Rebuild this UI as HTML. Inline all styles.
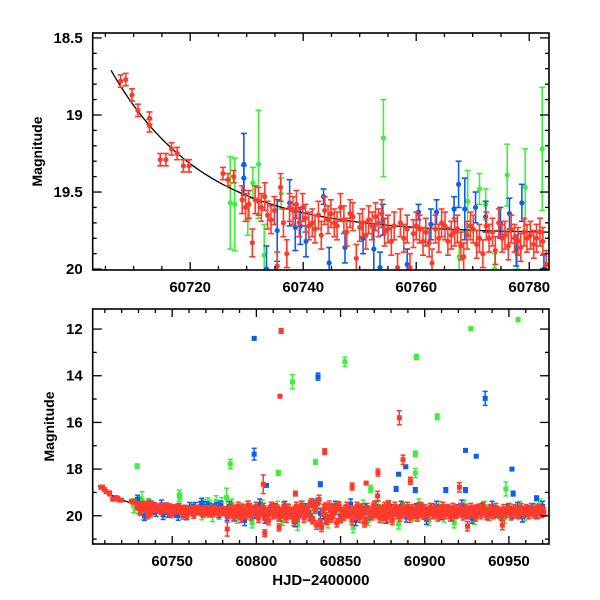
<!DOCTYPE html>
<html><head><meta charset="utf-8"><style>
html,body{margin:0;padding:0;background:#fff;}
svg{display:block;font-family:"Liberation Sans",sans-serif;}
</style></head><body>
<svg id="chart" width="600" height="600" viewBox="0 0 600 600"></svg>
<script>
// ---------- data ----------
// fit model parameters
const modelPlateau = 19.77, modelAmp = 1.06, modelT0 = 60706, modelTau = 16.5;
// red early points
const redEarlyT = [60707.7,60708.6,60709.7,60710.75,60712.8,60712.8,60714.7,60715.7,60716.7,60717.7,60718.8,60719.8,60725.8,60726.7,60727.7];
const redEarlyM = [18.78,18.77,18.87,18.97,19.02,19.07,19.29,19.29,19.22,19.25,19.33,19.33,19.38,19.42,19.40];
// red dense (top panel region)
const redT = [60729.2,60729.8,60730.4,60731,60731.5,60732.1,60732.6,60733.2,60733.7,60734.3,60734.9,60735.4,60736,60736.5,60737.1,60737.6,60738.2,60738.8,60739.3,60739.9,60740.4,60741,60741.6,60742.1,60742.7,60743.2,60743.8,60744.4,60744.9,60745.5,60746,60746.6,60747.2,60747.7,60748.3,60748.8,60749.4,60750,60750.5,60751.1,60751.6,60752.2,60752.8,60753.3,60753.9,60754.4,60755,60755.6,60756.1,60756.7,60757.2,60757.8,60758.4,60758.9,60759.5,60760,60760.6,60761.2,60761.7,60762.3,60762.8,60763.4,60764,60764.5,60765.1,60765.6,60766.2,60766.8,60767.3,60767.9,60768.4,60769,60769.6,60770.1,60770.7,60771.2,60771.8,60772.4,60772.9,60773.5,60774,60774.6,60775.2,60775.7,60776.3,60776.8,60777.4,60778,60778.5,60779.1,60779.6,60780.2,60780.8,60781.3,60781.9,60782.4,60783];
const redM = [19.55,19.6,19.58,19.83,19.55,19.56,19.6,19.53,19.65,19.68,19.62,19.98,19.47,19.7,19.9,19.6,19.62,19.58,19.7,19.6,19.67,19.72,19.7,19.74,19.65,19.78,19.62,19.68,19.64,19.7,19.72,19.6,19.68,19.76,19.64,19.66,19.93,19.73,19.7,19.78,19.68,19.72,19.66,19.7,19.64,19.76,19.74,19.82,19.72,19.99,19.7,19.8,19.74,19.99,19.77,19.72,19.74,19.82,19.76,19.83,19.96,19.74,19.8,19.7,19.72,19.82,19.78,19.76,19.74,19.85,19.92,19.78,19.72,19.74,19.84,19.8,19.9,19.72,19.8,19.76,19.88,19.7,19.8,19.78,19.85,19.74,19.8,19.82,19.86,19.76,19.8,19.78,19.84,19.8,19.76,19.82,19.97];
const redErr = 0.09;
// blue (top panel region)
const blueT = [60729.5,60729.5,60733.5,60735.4,60737.6,60738.6,60739.5,60740.5,60743.6,60744.6,60747.4,60750.6,60752.5,60753.6,60754.1,60758.4,60760.4,60762.6,60763.6,60766.7,60767.5,60768.6,60770.5,60772.3,60774.9,60776.5,60777.7,60778.7,60782.6];
const blueM = [19.32,19.41,20.0,19.75,19.57,19.73,19.72,19.82,19.53,19.96,19.86,19.8,19.87,19.99,19.68,19.97,19.63,19.71,19.63,19.61,19.45,19.61,19.6,19.66,19.7,19.64,19.88,19.57,20.0];
const blueE = [0.2,0.08,0.15,0.2,0.15,0.15,0.12,0.1,0.05,0.1,0.1,0.1,0.15,0.1,0.1,0.1,0.05,0.1,0.08,0.08,0.15,0.2,0.1,0.1,0.1,0.1,0.1,0.12,0.1];
// green (top panel region)
const greenT = [60727.1,60727.9,60730.2,60731.1,60732.1,60733.1,60736.1,60754.2,60767.6,60769.1,60771.2,60772.3,60773.9,60776.1,60777.9,60779.3,60782.3];
const greenM = [19.57,19.58,19.68,19.44,19.32,19.91,19.51,19.15,19.92,19.56,19.48,19.58,20.0,19.39,19.9,19.47,19.22];
const greenE = [0.3,0.3,0.1,0.1,0.35,0.2,0.1,0.25,0.1,0.2,0.1,0.1,0.1,0.2,0.1,0.25,0.4];
// bottom-panel extra: outliers
const blueOutT = [60798.7,60836.6,60935.9,60798.7,60924.2,60930.6,60951.8,60838,60884.5,60888.7,60883,60806,60924.2,60952.5,60966.4,60894.4,60912.5];
const blueOutM = [12.4,14.04,14.97,17.36,17.2,17.45,18.0,18.65,18.22,17.9,18.85,18.7,18.9,19.05,19.25,18.9,18.9];
const blueOutE = [0.05,0.15,0.3,0.25,0.05,0.05,0.05,0.1,0.05,0.05,0.1,0.05,0.1,0.1,0.1,0.1,0.1];
const greenOutT = [60729.2,60784.5,60813.1,60821.4,60835.1,60852.6,60895.1,60894.4,60894.4,60907.4,60927.4,60955.4,60754.5,60867.9,60948.2];
const greenOutM = [17.88,17.78,18.17,14.26,17.69,13.4,13.2,17.35,18.17,15.76,11.98,11.6,19.17,18.85,18.85];
const greenOutE = [0.1,0.2,0.1,0.3,0.1,0.2,0.1,0.12,0.2,0.12,0.05,0.08,0.15,0.15,0.3];
const redOutT = [60814.7,60814,60884.9,60840.6,60872.2,60887.1,60891.5,60823.2,60804.1,60856.9,60865.2,60872,60920.6,60805,60782.7,60946.1,60925.4,60813.5];
const redOutM = [12.08,14.88,15.8,17.25,18.15,17.6,18.5,19.05,18.65,18.75,18.6,19.15,18.78,20.75,20.57,20.4,20.45,20.5];
const redOutE = [0.1,0.03,0.3,0.12,0.15,0.2,0.15,0.1,0.4,0.15,0.05,0.2,0.2,0.15,0.3,0.2,0.2,0.15];
// bottom-panel dense bands (regular cadence)
const redBandStart = 60784, redBandStep = 1.5;
const redBandM = [19.8,19.9,19.7,19.85,19.95,19.75,19.8,19.9,19.7,19.85,19.75,19.9,19.8,19.7,20.05,19.8,19.85,19.6,19.9,19.75,19.8,19.95,19.7,19.85,19.8,19.9,19.75,20.1,19.8,19.7,19.9,19.8,19.5,20.2,19.75,19.4,20.3,19.85,19.6,20.1,19.7,19.9,19.8,19.55,20.15,19.8,19.7,19.95,19.85,19.75,20.0,19.8,19.65,19.9,20.2,19.75,19.85,19.6,19.95,19.8,19.7,20.05,19.85,19.5,19.9,19.8,19.75,19.7,19.9,19.8,19.85,19.75,19.95,19.8,19.7,19.9,19.6,20.0,19.8,19.85,19.75,19.9,19.8,19.7,19.95,19.8,19.85,19.75,19.9,19.8,19.7,19.85,19.8,19.9,19.75,19.8,19.85,19.7,19.9,19.8,19.75,19.85,19.8,19.7,19.9,19.8,19.75,19.85,19.8,19.9,19.8,19.75,19.85,19.8,19.7,19.85,19.8,19.75,19.8,19.85,19.8,19.75,19.7,19.8,19.75];
const redBand2Start = 60784.75, redBand2Step = 1.5;
const redBand2M = [19.65,20.05,19.9,19.6,20.1,19.7,19.95,19.55,20.0,19.75,19.6,20.1,19.85,19.65,19.9,20.2,19.6,19.95,19.7,20.05,19.9,19.6,20.1,19.7,19.95,20.25,19.6,19.9,19.55,20.1,19.75,20.0,19.45,19.6,20.4,19.3,20.5,19.7,20.2,19.55,20.1,19.65,20.3,19.6,19.9,20.0,19.6,19.75,20.2,19.95,19.6,20.1,19.85,20.3,19.65,19.9,20.0,19.55,19.75,20.1,19.95,19.6,20.1,19.8,20.2,19.6,19.95,20.05,19.65,19.9,19.6,20.1,19.7,19.95,20.05,19.6,19.9,19.7,20.0,19.65,19.95,19.7,20.05,19.9,19.6,19.95,19.7,20.05,19.65,19.95,19.9,19.65,20.0,19.7,19.95,19.65,19.9,20.05,19.7,19.95,19.6,19.9,20.0,19.7,19.95,19.65,19.9,20.0,19.7,19.9,19.65,20.0,19.7,19.9,19.95,19.65,19.9,19.7,19.95,19.65,19.9,19.95,19.7,19.9,19.85];
const blueBandStart = 60784, blueBandStep = 3;
const blueBandM = [19.6,20.0,19.8,20.2,19.7,19.9,19.5,20.1,19.8,19.7,20.0,19.6,19.9,20.25,19.8,19.7,20.0,19.55,19.9,20.1,19.75,19.6,20.0,19.85,19.5,20.2,19.8,19.7,19.95,19.6,19.9,20.1,19.75,19.8,19.6,20.05,19.9,19.7,19.85,20.15,19.7,19.6,19.95,19.8,20.0,19.75,19.55,19.9,20.1,19.8,19.7,19.95,19.6,19.85,20.0,19.75,19.9,19.65,20.05,19.8,19.7,19.9,19.6];
const greenBandStart = 60785.5, greenBandStep = 3;
const greenBandM = [19.5,20.1,19.7,19.6,20.3,19.8,19.55,20.0,19.9,19.6,20.2,19.7,19.85,20.4,19.6,19.75,20.1,19.5,19.95,20.3,19.7,19.6,20.0,19.85,20.5,19.7,19.55,20.2,19.8,19.6,20.1,19.75,19.9,20.35,19.65,19.8,20.0,19.5,19.9,20.2,19.7,19.6,20.05,19.8,20.3,19.75,19.55,19.9,20.15,19.7,19.6,20.0,19.8,19.9,20.1,19.7,19.85,19.6,20.0,19.8,19.7,19.5];
const bandErr = 0.22;
// axis ticks
const topXTicks = [60720,60740,60760,60780];
const topYTicks = [18.5,19,19.5,20];
const botXTicks = [60750,60800,60850,60900,60950];
const botYTicks = [12,14,16,18,20];

const RED="#ff3a2a", BLUE="#0c5ef0", GREEN="#3cf03a";
const NS="http://www.w3.org/2000/svg";
const svg=document.getElementById('chart');
function mk(tag,attrs,parent){const e=document.createElementNS(NS,tag);for(const k in attrs)e.setAttribute(k,attrs[k]);(parent||svg).appendChild(e);return e;}

function panel(cfg){
  const g=mk('g',{});
  
  
  const sx=t=>cfg.x0+(t-cfg.t0)/(cfg.t1-cfg.t0)*(cfg.x1-cfg.x0);
  const sy=m=>cfg.y0+(m-cfg.m0)/(cfg.m1-cfg.m0)*(cfg.y1-cfg.y0);
  const clipId=cfg.name+'-clip';
  const defs=mk('defs',{},g);
  const cp=mk('clipPath',{id:clipId},defs);
  mk('rect',{x:cfg.x0,y:cfg.y0,width:cfg.x1-cfg.x0,height:cfg.y1-cfg.y0},cp);
  const plot=mk('g',{'clip-path':'url(#'+clipId+')'},g);
  
  
  return {g,plot,sx,sy,cfg};
}
function point(P,t,m,e,color,shape,name){
  const x=P.sx(t), y=P.sy(m), y1=P.sy(m-e), y2=P.sy(m+e);
  const gp=mk('g',{},P.plot);
  
  
  const cw=P.cfg.cap;
  mk('line',{x1:x,y1:y1,x2:x,y2:y2,stroke:color,'stroke-width':P.cfg.lw},gp);
  mk('line',{x1:x-cw,y1:y1,x2:x+cw,y2:y1,stroke:color,'stroke-width':P.cfg.lw},gp);
  mk('line',{x1:x-cw,y1:y2,x2:x+cw,y2:y2,stroke:color,'stroke-width':P.cfg.lw},gp);
  if(shape==='c') mk('circle',{cx:x,cy:y,r:2.6,fill:color},gp);
  else mk('rect',{x:x-2.5,y:y-2.5,width:5,height:5,fill:color},gp);
}
function curve(P,tA,tB){
  let d='';
  for(let t=tA;t<=tB;t+=0.25){const m=modelPlateau-modelAmp*Math.exp(-(t-modelT0)/modelTau);d+=(d?'L':'M')+P.sx(t).toFixed(2)+','+P.sy(m).toFixed(2);}
  const p=mk('path',{d:d,fill:'none',stroke:'#000','stroke-width':1.3},P.plot);
  
  
}
function axes(P,xt,xmin,yt,ymin,xlabel){
  const c=P.cfg, g=P.g;
  const fr=mk('rect',{x:c.x0,y:c.y0,width:c.x1-c.x0,height:c.y1-c.y0,fill:'none',stroke:'#000','stroke-width':1.6},g);
  
  
  const tk=mk('g',{stroke:'#000','stroke-width':1.3},g);
  
  
  for(let t=Math.ceil(c.t0/xmin)*xmin;t<=c.t1;t+=xmin){
    const x=P.sx(t), maj=xt.includes(t)?8:4;
    mk('line',{x1:x,y1:c.y1,x2:x,y2:c.y1-maj},tk);
    mk('line',{x1:x,y1:c.y0,x2:x,y2:c.y0+maj},tk);
  }
  for(let k=Math.ceil(c.m0/ymin-1e-6);k*ymin<=c.m1+1e-6;k++){
    const m=+(k*ymin).toFixed(3), y=P.sy(m), maj=yt.some(v=>Math.abs(v-m)<1e-6)?9:4;
    mk('line',{x1:c.x0,y1:y,x2:c.x0+maj,y2:y},tk);
    mk('line',{x1:c.x1,y1:y,x2:c.x1-maj,y2:y},tk);
  }
  xt.forEach(t=>{const e=mk('text',{x:P.sx(t),y:c.y1+22,'text-anchor':'middle','font-size':15,'font-weight':'bold'},g);e.textContent=String(t);
    
    });
  yt.forEach(m=>{const e=mk('text',{x:c.x0-10,y:P.sy(m)+5,'text-anchor':'end','font-size':15,'font-weight':'bold'},g);e.textContent=String(m);
    
    });
  const yl=mk('text',{x:0,y:0,transform:'translate('+(c.ylx)+','+((c.y0+c.y1)/2)+') rotate(-90)','text-anchor':'middle','font-size':14,'font-weight':'bold'},g);
  yl.textContent='Magnitude';
  
  
  if(xlabel){const xl=mk('text',{x:(c.x0+c.x1)/2,y:c.y1+41,'text-anchor':'middle','font-size':15,'font-weight':'bold'},g);xl.textContent=xlabel;
    
    }
}

// ---------- top panel ----------
const T=panel({name:'top-panel',x0:92.7,x1:549,y0:33,y1:270,t0:60702.75,t1:60783.5,m0:18.468,m1:20.006,cap:3,lw:1.6,ylx:42});
greenT.forEach((t,i)=>point(T,t,greenM[i],greenE[i],GREEN,'c','green-point'));
blueT.forEach((t,i)=>point(T,t,blueM[i],blueE[i],BLUE,'c','blue-point'));
curve(T,60706,60783.5);
redEarlyT.forEach((t,i)=>point(T,t,redEarlyM[i],0.04,RED,'c','red-point'));
redT.forEach((t,i)=>{if(i<redM.length)point(T,t,redM[i],redErr,RED,'c','red-point');});
axes(T,topXTicks,5,topYTicks,0.1,null);

// ---------- bottom panel ----------
const B=panel({name:'bottom-panel',x0:92.7,x1:549,y0:309,y1:544,t0:60702.8,t1:60973.8,m0:11.14,m1:21.21,cap:2.5,lw:1.5,ylx:54});
greenT.forEach((t,i)=>point(B,t,greenM[i],Math.max(greenE[i],0.25),GREEN,'s','green-point'));
greenBandM.forEach((m,i)=>point(B,greenBandStart+i*greenBandStep,m,bandErr,GREEN,'s','green-point'));
greenOutT.forEach((t,i)=>point(B,t,greenOutM[i],greenOutE[i],GREEN,'s','green-outlier'));
blueT.forEach((t,i)=>point(B,t,blueM[i],Math.max(blueE[i],0.2),BLUE,'s','blue-point'));
blueBandM.forEach((m,i)=>point(B,blueBandStart+i*blueBandStep,m,bandErr,BLUE,'s','blue-point'));
blueOutT.forEach((t,i)=>point(B,t,blueOutM[i],blueOutE[i],BLUE,'s','blue-outlier'));
curve(B,60706,60730);
redEarlyT.forEach((t,i)=>point(B,t,redEarlyM[i],0.04,RED,'s','red-point'));
redT.forEach((t,i)=>{if(i<redM.length)point(B,t,redM[i],0.15,RED,'s','red-point');});
redBand2M.forEach((m,i)=>point(B,redBand2Start+i*redBand2Step,m,0.18,RED,'s','red-point'));
redBandM.forEach((m,i)=>point(B,redBandStart+i*redBandStep,m,0.15,RED,'s','red-point'));
redOutT.forEach((t,i)=>point(B,t,redOutM[i],redOutE[i],RED,'s','red-outlier'));
axes(B,botXTicks,10,botYTicks,1,'HJD\u22122400000');
</script>
</body></html>
